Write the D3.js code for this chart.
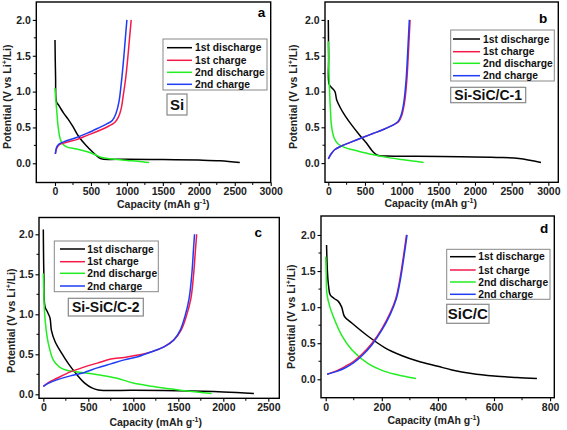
<!DOCTYPE html>
<html><head><meta charset="utf-8">
<script src="https://cdn.jsdelivr.net/npm/d3@7"></script>
<style>
html,body{margin:0;padding:0;background:#fff;}
svg{display:block;font-family:"Liberation Sans",Arial,sans-serif;}
</style></head>
<body><svg id="c" width="567" height="430"></svg>
<script>
// ---------- DATA ----------
const seriesNames = ["1st discharge", "1st charge", "2nd discharge", "2nd charge"];
const seriesColors = ["#000000", "#f5194a", "#22ee22", "#1f3cf5"];

// Panel a : Si
const aDis1 = [[0,1.72],[8,1.2],[20,0.86],[45,0.82],[70,0.78],[120,0.7],[180,0.62],[250,0.51],[325,0.38],[430,0.25],[530,0.15],[610,0.08],[660,0.06],[1000,0.057],[1500,0.052],[2000,0.045],[2300,0.035],[2570,0.01]];
const aChg1 = [[5,0.13],[25,0.21],[60,0.26],[150,0.29],[300,0.33],[450,0.39],[600,0.45],[750,0.52],[830,0.57],[880,0.64],[920,0.76],[950,0.95],[985,1.2],[1015,1.5],[1040,1.78],[1060,2.0]];
const aDis2 = [[0,1.05],[10,0.9],[25,0.72],[45,0.5],[70,0.35],[100,0.28],[160,0.23],[300,0.2],[450,0.16],[560,0.12],[650,0.08],[800,0.06],[1000,0.04],[1150,0.03],[1310,0.01]];
const aChg2 = [[5,0.13],[25,0.23],[60,0.27],[150,0.31],[300,0.36],[450,0.42],[600,0.49],[720,0.55],[800,0.6],[850,0.7],[890,0.86],[920,1.1],[950,1.4],[975,1.7],[1000,2.0]];

// Panel b : Si-SiC/C-1
const bDis1 = [[0,2.0],[5,1.5],[12,1.1],[50,1.05],[90,1.0],[115,0.88],[160,0.78],[230,0.66],[320,0.53],[420,0.4],[520,0.28],[600,0.17],[670,0.11],[800,0.1],[1200,0.095],[1800,0.09],[2300,0.08],[2600,0.065],[2900,0.01]];
const bChg1 = [[0,0.06],[40,0.13],[90,0.19],[180,0.24],[300,0.29],[450,0.35],[600,0.41],[750,0.47],[880,0.53],[960,0.58],[1000,0.66],[1040,0.85],[1070,1.15],[1090,1.5],[1105,1.8],[1115,2.0]];
const bDis2 = [[0,1.7],[5,1.4],[14,1.1],[30,0.72],[45,0.51],[80,0.35],[130,0.27],[220,0.22],[400,0.17],[600,0.12],[800,0.08],[1000,0.05],[1150,0.03],[1300,0.01]];
const bChg2 = [[0,0.06],[40,0.13],[90,0.19],[180,0.24],[300,0.29],[450,0.35],[600,0.41],[750,0.47],[880,0.53],[950,0.58],[990,0.66],[1030,0.85],[1060,1.15],[1080,1.5],[1095,1.8],[1105,2.0]];

// Panel c : Si-SiC/C-2
const cDis1 = [[0,2.06],[6,1.5],[18,1.1],[50,1.02],[75,0.95],[90,0.8],[130,0.66],[200,0.52],[280,0.38],[370,0.25],[460,0.14],[540,0.08],[610,0.055],[1000,0.05],[1500,0.045],[2000,0.03],[2340,0.01]];
const cChg1 = [[0,0.1],[60,0.15],[150,0.2],[300,0.28],[450,0.34],[600,0.39],[750,0.44],[900,0.46],[1050,0.49],[1200,0.53],[1350,0.6],[1450,0.68],[1530,0.8],[1590,0.98],[1640,1.2],[1670,1.5],[1690,1.8],[1704,2.0]];
const cDis2 = [[0,1.51],[5,1.3],[12,1.05],[30,0.82],[55,0.64],[110,0.43],[180,0.34],[260,0.3],[450,0.27],[630,0.24],[820,0.2],[1000,0.14],[1200,0.1],[1400,0.07],[1600,0.04],[1870,0.01]];
const cChg2 = [[0,0.1],[60,0.14],[150,0.18],[300,0.23],[450,0.27],[600,0.33],[750,0.38],[900,0.43],[1050,0.47],[1200,0.53],[1350,0.6],[1450,0.68],[1520,0.8],[1575,0.98],[1620,1.2],[1650,1.5],[1668,1.8],[1680,2.0]];

// Panel d : SiC/C
const dDis1 = [[3,1.86],[6,1.5],[10,1.3],[16,1.17],[30,1.12],[45,1.08],[57,1.0],[67,0.87],[93,0.78],[150,0.6],[210,0.44],[270,0.33],[330,0.25],[400,0.18],[450,0.13],[520,0.08],[600,0.045],[680,0.025],[753,0.01]];
const dChg1 = [[5,0.07],[40,0.12],[70,0.18],[100,0.25],[130,0.35],[165,0.5],[200,0.7],[230,0.92],[250,1.12],[265,1.4],[277,1.7],[288,2.0]];
const dDis2 = [[0,1.7],[2,1.45],[4,1.19],[15,1.0],[27,0.87],[57,0.61],[93,0.41],[150,0.22],[210,0.11],[270,0.05],[322,0.01]];
const dChg2 = [[5,0.07],[40,0.11],[70,0.16],[100,0.23],[130,0.33],[165,0.48],[200,0.68],[230,0.9],[252,1.12],[267,1.4],[279,1.7],[290,2.0]];

const xTicksA = [0,500,1000,1500,2000,2500,3000];
const xTicksC = [0,500,1000,1500,2000,2500];
const xTicksD = [0,200,400,600,800];
const yTicks = [0.0,0.5,1.0,1.5,2.0];

// ---------- LAYOUT ----------
const panels = [
  {series:[aDis1,aChg1,aDis2,aChg2], letter:"a", sample:"Si",
   box:[36.3,270.7,2,182.5], xd:[-260,3000], yd:[-0.268,2.25], xticks:xTicksA, xminor:250,
   leg:[163,39,104,51], rows:[47.7,60.3,72.3,84.3], lineX:[167,192], textX:195,
   samp:[167,94,20,21,15], letterPos:[261.5,17],
   xt:[163.3,208]},
  {series:[bDis1,bChg1,bDis2,bChg2], letter:"b", sample:"Si-SiC/C-1",
   box:[325,558.3,2,182.3], xd:[-45,3136], yd:[-0.268,2.25], xticks:xTicksA, xminor:250,
   leg:[450.7,30,103.6,51], rows:[39,51.7,63.3,75.7], lineX:[453,480], textX:483,
   samp:[450.7,87.3,75,15.4,14], letterPos:[543,23],
   xt:[430.7,207]},
  {series:[cDis1,cChg1,cDis2,cChg2], letter:"c", sample:"Si-SiC/C-2",
   box:[39,279.3,217.5,398.3], xd:[-48,2622], yd:[-0.05,2.21], xticks:xTicksC, xminor:250,
   leg:[54.3,241,104,50.7], rows:[249,261.7,273.3,286], lineX:[60,85], textX:87.3,
   samp:[68.3,298.3,75,17.7,14], letterPos:[258.3,236.5],
   xt:[155.7,425.5]},
  {series:[dDis1,dChg1,dDis2,dChg2], letter:"d", sample:"SiC/C",
   box:[321,554.3,216,397.7], xd:[-16.8,815], yd:[-0.255,2.263], xticks:xTicksD, xminor:100,
   leg:[446.7,249.3,103.3,50], rows:[256.7,270,282,294.3], lineX:[450,475.7], textX:478.3,
   samp:[446.7,304.3,42.3,19,15], letterPos:[544,233],
   xt:[433.7,424]}
];
const yTitlePos = [[11,96.7],[296.5,96.7],[15,320.7],[295,316.7]];

const svg = d3.select("#c");

panels.forEach((p,pi) => {
  const [L,R,T,B] = p.box;
  const x = d3.scaleLinear().domain(p.xd).range([L,R]);
  const y = d3.scaleLinear().domain(p.yd).range([B,T]);
  const g = svg.append("g");

  // curves
  const line = d3.line().x(d=>x(d[0])).y(d=>y(d[1])).curve(d3.curveCatmullRom.alpha(0.5));
  [0,2,1,3].forEach(i => {
    g.append("path").datum(p.series[i]).attr("d", line)
      .attr("fill","none").attr("stroke",seriesColors[i]).attr("stroke-width",1.5)
      .attr("stroke-linejoin","round");
  });

  // frame
  g.append("rect").attr("x",L).attr("y",T).attr("width",R-L).attr("height",B-T)
    .attr("fill","none").attr("stroke","#000").attr("stroke-width",1.4);

  // axes
  const xMinor = d3.range(p.xticks[0], p.xd[1], p.xminor).filter(v => v>=p.xd[0]);
  const xAx = d3.axisBottom(x).tickValues(p.xticks).tickSize(3.5).tickPadding(2).tickFormat(d3.format("d"));
  const gx = g.append("g").attr("transform",`translate(0,${B})`).call(xAx);
  gx.select(".domain").remove();
  gx.append("g").selectAll("line").data(xMinor.filter(v=>!p.xticks.includes(v))).join("line")
    .attr("x1",d=>x(d)).attr("x2",d=>x(d)).attr("y1",0).attr("y2",2.5).attr("stroke","#000");
  const yAx = d3.axisLeft(y).tickValues(yTicks).tickSize(3.5).tickPadding(2).tickFormat(d3.format(".1f"));
  const gy = g.append("g").attr("transform",`translate(${L},0)`).call(yAx);
  gy.select(".domain").remove();
  gy.append("g").selectAll("line").data([0.25,0.75,1.25,1.75]).join("line")
    .attr("y1",d=>y(d)).attr("y2",d=>y(d)).attr("x1",0).attr("x2",-2.5).attr("stroke","#000");
  [gx,gy].forEach(a => {
    a.selectAll(".tick line").attr("stroke","#000").attr("stroke-width",1.1);
    a.selectAll(".tick text").attr("font-size",10.5).attr("font-weight","bold")
      .attr("font-family","'Liberation Sans',Arial,sans-serif").attr("fill","#222");
  });

  // axis titles
  const xt = g.append("text").attr("x",p.xt[0]).attr("y",p.xt[1]).attr("text-anchor","middle")
    .attr("font-size",10.5).attr("font-weight","bold").attr("fill","#222");
  xt.append("tspan").text("Capacity (mAh g");
  xt.append("tspan").text("-1").attr("font-size",7).attr("dy",-4);
  xt.append("tspan").text(")").attr("dy",4);
  const yp = yTitlePos[pi];
  const yt = g.append("text").attr("transform",`translate(${yp[0]},${yp[1]}) rotate(-90)`)
    .attr("text-anchor","middle").attr("font-size",10.5).attr("font-weight","bold").attr("fill","#222");
  yt.append("tspan").text("Potential (V vs Li");
  yt.append("tspan").text("+").attr("font-size",7).attr("dy",-4);
  yt.append("tspan").text("/Li)").attr("dy",4);

  // panel letter
  g.append("text").attr("x",p.letterPos[0]).attr("y",p.letterPos[1]).attr("text-anchor","middle")
    .attr("font-size",13.5).attr("font-weight","bold").text(p.letter);

  // legend
  const [lx,ly,lw,lh] = p.leg;
  g.append("rect").attr("x",lx).attr("y",ly).attr("width",lw).attr("height",lh)
    .attr("fill","#fff").attr("stroke","#888").attr("stroke-width",1);
  seriesNames.forEach((n,i) => {
    g.append("line").attr("x1",p.lineX[0]).attr("x2",p.lineX[1]).attr("y1",p.rows[i]).attr("y2",p.rows[i])
      .attr("stroke",seriesColors[i]).attr("stroke-width",1.5);
    g.append("text").attr("x",p.textX).attr("y",p.rows[i]+3.6).attr("font-size",10.3)
      .attr("font-weight","bold").attr("fill","#111").text(n);
  });

  // sample label
  const [sx,sy,sw,sh,fs] = p.samp;
  g.append("rect").attr("x",sx).attr("y",sy).attr("width",sw).attr("height",sh)
    .attr("fill","#fff").attr("stroke","#888").attr("stroke-width",1.2);
  g.append("text").attr("x",sx+sw/2).attr("y",sy+sh/2+fs*0.36).attr("text-anchor","middle")
    .attr("font-size",fs).attr("font-weight","bold").attr("fill","#111").text(p.sample);
});
</script></body></html>
